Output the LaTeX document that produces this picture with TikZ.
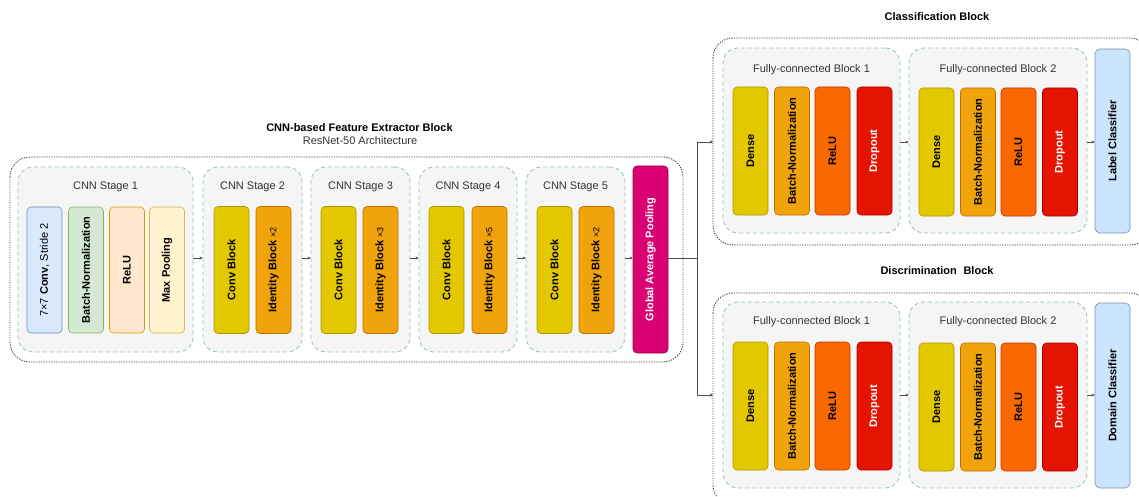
\documentclass[tikz,border=0pt]{standalone}
\usepackage{fontspec}
\setmainfont{Liberation Sans}
\usetikzlibrary{arrows.meta}
\definecolor{stageFill}{HTML}{F5F5F5}
\definecolor{stageLine}{HTML}{8CC4B8}
\definecolor{bluF}{HTML}{DAE8FC}\definecolor{bluD}{HTML}{6C8EBF}
\definecolor{grnF}{HTML}{D5E8D4}\definecolor{grnD}{HTML}{82B366}
\definecolor{orlF}{HTML}{FFE6CC}\definecolor{orlD}{HTML}{D79B00}
\definecolor{ylwF}{HTML}{FFF2CC}\definecolor{ylwD}{HTML}{D6B656}
\definecolor{yelF}{HTML}{E3C800}\definecolor{yelD}{HTML}{B09500}
\definecolor{ambF}{HTML}{F0A30A}\definecolor{ambD}{HTML}{BD7000}
\definecolor{orgF}{HTML}{FA6800}\definecolor{orgD}{HTML}{C73500}
\definecolor{redF}{HTML}{E51400}\definecolor{redD}{HTML}{B20000}
\definecolor{magF}{HTML}{D80073}\definecolor{magD}{HTML}{A50040}
\definecolor{clsF}{HTML}{CCE5FF}\definecolor{clsD}{HTML}{7A8FA8}
\definecolor{txtG}{HTML}{333333}
\tikzset{
  outerbox/.style={draw=black!75, line width=0.9pt, dash pattern=on 1.2pt off 1.3pt, rounded corners=20pt},
  stagebox/.style={draw=stageLine, fill=stageFill, line width=0.8pt, dash pattern=on 4pt off 3pt, rounded corners=15pt, inner sep=0pt},
  stagelabel/.style={font=\fontsize{11}{13}\selectfont, text=txtG, inner sep=0pt},
  blk/.style={rotate=90, minimum width=127pt, minimum height=35pt, rounded corners=4pt, inner sep=0pt, line width=0.6pt, font=\bfseries\fontsize{11}{13}\selectfont},
  titletxt/.style={font=\bfseries\fontsize{11}{13}\selectfont, inner sep=0pt},
  conn/.style={draw=black!70, line width=0.6pt, -{Stealth[length=3pt,width=3pt]}},
  line/.style={draw=black!70, line width=0.6pt},
}
\begin{document}
\begin{tikzpicture}[x=1pt,y=-1pt]
\clip (0,0) rectangle (1139,497);
\fill[white] (0,0) rectangle (1139,497);

% ===== CNN feature extractor =====
\node[titletxt] (t1) at (359.5,128) {CNN-based Feature Extractor Block};
\node[stagelabel] (t1b) at (360,141) {ResNet-50 Architecture};
\draw[outerbox] (10,157) rectangle (683,362);

\node[stagebox, minimum width=175pt, minimum height=185pt] (s1) at (105.5,259.5) {};
\node[stagebox, minimum width=99pt, minimum height=185pt] (s2) at (252.5,259.5) {};
\node[stagebox, minimum width=99pt, minimum height=185pt] (s3) at (360.5,259.5) {};
\node[stagebox, minimum width=98pt, minimum height=185pt] (s4) at (468,259.5) {};
\node[stagebox, minimum width=99pt, minimum height=185pt] (s5) at (575.5,259.5) {};
\node[stagelabel] (l1) at (105.5,187) {CNN Stage 1};
\node[stagelabel] (l2) at (252.5,187) {CNN Stage 2};
\node[stagelabel] (l3) at (360.5,187) {CNN Stage 3};
\node[stagelabel] (l4) at (468,187) {CNN Stage 4};
\node[stagelabel] (l5) at (575.5,187) {CNN Stage 5};

\node[blk, fill=bluF, draw=bluD, minimum width=126pt] (c1) at (44.5,270) {\mdseries 7×7 \bfseries Conv\mdseries, Stride 2};
\node[blk, fill=grnF, draw=grnD, minimum width=126pt] (b1) at (86,270) {Batch-Normalization};
\node[blk, fill=orlF, draw=orlD, minimum width=126pt] (r1) at (127,270) {ReLU};
\node[blk, fill=ylwF, draw=ylwD, minimum width=126pt] (m1) at (167,270) {Max Pooling};

\node[blk, fill=yelF, draw=yelD] (c2) at (231.5,270) {Conv Block};
\node[blk, fill=ambF, draw=ambD] (i2) at (273.5,270) {Identity Block {\mdseries\fontsize{9}{11}\selectfont ×2}};
\node[blk, fill=yelF, draw=yelD] (c3) at (338.5,270) {Conv Block};
\node[blk, fill=ambF, draw=ambD] (i3) at (380.5,270) {Identity Block {\mdseries\fontsize{9}{11}\selectfont ×3}};
\node[blk, fill=yelF, draw=yelD] (c4) at (446.5,270) {Conv Block};
\node[blk, fill=ambF, draw=ambD] (i4) at (489.5,270) {Identity Block {\mdseries\fontsize{9}{11}\selectfont ×5}};
\node[blk, fill=yelF, draw=yelD] (c5) at (554.5,270) {Conv Block};
\node[blk, fill=ambF, draw=ambD] (i5) at (596.5,270) {Identity Block {\mdseries\fontsize{9}{11}\selectfont ×2}};

\node[blk, fill=magF, draw=magD, text=white, minimum width=187pt] (gap) at (650.5,259.5) {Global Average Pooling};

\draw[conn] (s1.east |- 0,258) -- (s2.west |- 0,258);
\draw[conn] (s2.east |- 0,258) -- (s3.west |- 0,258);
\draw[conn] (s3.east |- 0,258) -- (s4.west |- 0,258);
\draw[conn] (s4.east |- 0,258) -- (s5.west |- 0,258);
\draw[conn] (s5.east |- 0,258) -- (gap.north |- 0,258);

% ===== splitter =====
\coordinate (sp) at (697,258);
\coordinate (spT) at (697,142);
\coordinate (spB) at (697,395);
\draw[line] (gap.south |- 0,258) -- (sp);
\draw[line] (spT) -- (spB);

% ===== Classification block =====
\node[titletxt] (t2) at (937,17) {Classification Block};
\draw[outerbox] (713,38) rectangle (1150,245);
\coordinate (clsL) at (713,142);
\draw[conn] (spT) -- (clsL);

\node[stagebox, minimum width=177pt, minimum height=185pt] (f1) at (811.5,140.5) {};
\node[stagebox, minimum width=178pt, minimum height=185pt] (f2) at (998,140.5) {};
\node[stagelabel] (lf1) at (811.5,70) {Fully-connected Block 1};
\node[stagelabel] (lf2) at (998,70) {Fully-connected Block 2};
\node[blk, fill=yelF, draw=yelD, minimum width=128pt] (d1) at (750.5,151) {Dense};
\node[blk, fill=ambF, draw=ambD, minimum width=128pt] (n1) at (792,151) {Batch-Normalization};
\node[blk, fill=orgF, draw=orgD, minimum width=128pt] (u1) at (832.5,151) {ReLU};
\node[blk, fill=redF, draw=redD, text=white, minimum width=128pt] (o1) at (874.5,151) {Dropout};
\node[blk, fill=yelF, draw=yelD, minimum width=128pt] (d2) at (936.5,152) {Dense};
\node[blk, fill=ambF, draw=ambD, minimum width=128pt] (n2) at (978,152) {Batch-Normalization};
\node[blk, fill=orgF, draw=orgD, minimum width=128pt] (u2) at (1018.5,152) {ReLU};
\node[blk, fill=redF, draw=redD, text=white, minimum width=128pt] (o2) at (1060,152) {Dropout};
\node[blk, fill=clsF, draw=clsD, minimum width=184pt, minimum height=35pt, rounded corners=5pt] (lc) at (1112.5,141) {Label Classifier};
\draw[conn] (f1.east |- 0,142) -- (f2.west |- 0,142);
\draw[conn] (f2.east |- 0,142) -- (lc.north |- 0,142);

% ===== Discrimination block =====
\node[titletxt] (t3) at (937,271) {Discrimination\hspace{0.6em}Block};
\draw[outerbox] (713,293) rectangle (1150,505);
\coordinate (disL) at (713,395);
\draw[conn] (spB) -- (disL);

\node[stagebox, minimum width=177pt, minimum height=186pt] (g1) at (811.5,395) {};
\node[stagebox, minimum width=178pt, minimum height=186pt] (g2) at (998,395) {};
\node[stagelabel] (lg1) at (811.5,322) {Fully-connected Block 1};
\node[stagelabel] (lg2) at (998,322) {Fully-connected Block 2};
\node[blk, fill=yelF, draw=yelD, minimum width=128pt] (e1) at (750.5,406) {Dense};
\node[blk, fill=ambF, draw=ambD, minimum width=128pt] (m2) at (792,406) {Batch-Normalization};
\node[blk, fill=orgF, draw=orgD, minimum width=128pt] (v1) at (832.5,406) {ReLU};
\node[blk, fill=redF, draw=redD, text=white, minimum width=128pt] (p1) at (874.5,406) {Dropout};
\node[blk, fill=yelF, draw=yelD, minimum width=128pt] (e2) at (936.5,407) {Dense};
\node[blk, fill=ambF, draw=ambD, minimum width=128pt] (m3) at (978,407) {Batch-Normalization};
\node[blk, fill=orgF, draw=orgD, minimum width=128pt] (v2) at (1018.5,407) {ReLU};
\node[blk, fill=redF, draw=redD, text=white, minimum width=128pt] (p2) at (1060,407) {Dropout};
\node[blk, fill=clsF, draw=clsD, minimum width=185pt, minimum height=35pt, rounded corners=5pt] (dc) at (1112.5,395.5) {Domain Classifier};
\draw[conn] (g1.east |- 0,395) -- (g2.west |- 0,395);
\draw[conn] (g2.east |- 0,395) -- (dc.north |- 0,395);
\end{tikzpicture}
\end{document}
